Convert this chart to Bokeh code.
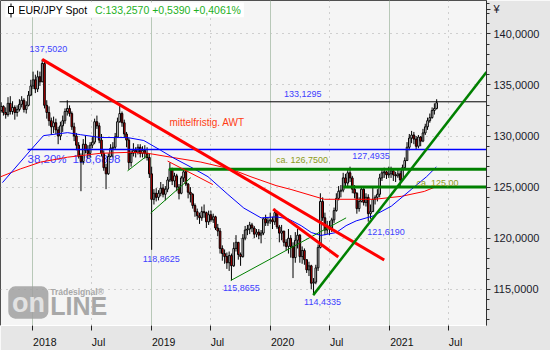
import pandas as pd
from bokeh.plotting import figure
from bokeh.models import FixedTicker, Range1d, BoxAnnotation, Grid, ColumnDataSource
from bokeh.core.properties import value
from bokeh.embed import file_html
from bokeh.resources import INLINE

# ---------------- data (weekly EUR/JPY) ----------------
first_week = "2017-09-27"
first_open = 132.5
closes = [
    132.9, 132.3, 132.1, 133.2, 132.4, 132.8, 132.3, 132.6,
    133.1, 133.5, 132.6, 133.0, 134.0, 134.9, 135.5, 134.6,
    135.8, 135.3, 137.1, 133.0, 132.3, 131.5, 130.9, 131.3,
    130.6, 130.0, 131.0, 131.5, 132.4, 132.7, 132.2, 130.9,
    130.0, 129.1, 128.0, 127.5, 129.2, 128.6, 128.3, 129.1,
    129.4, 131.4, 131.0, 129.6, 128.3, 126.9, 126.3, 128.0,
    128.8, 128.9, 129.9, 131.4, 132.2, 131.3, 130.2, 129.6,
    127.4, 128.3, 128.6, 128.4, 128.9, 128.3, 128.6, 128.3,
    127.9, 126.3, 123.8, 124.4, 124.0, 124.4, 124.9, 124.3,
    124.8, 125.7, 126.8, 125.6, 126.1, 125.0, 124.4, 125.9,
    126.5, 125.3, 124.5, 124.3, 123.2, 122.6, 122.2, 122.0,
    122.6, 122.5, 121.6, 122.3, 121.8, 122.1, 121.0, 120.7,
    119.0, 118.5, 118.2, 117.6, 118.3, 117.3, 119.0, 119.6,
    118.4, 118.2, 120.0, 120.8, 120.9, 121.3, 121.0, 120.4,
    120.6, 120.3, 120.5, 121.9, 121.5, 121.7, 121.8, 121.6,
    122.5, 121.1, 120.5, 120.7, 119.6, 119.2, 120.0, 119.2,
    118.1, 119.8, 120.3, 118.2, 118.8, 117.9, 116.9, 117.3,
    115.6, 115.7, 117.1, 119.1, 123.6, 122.0, 120.8, 121.2,
    121.0, 121.8, 122.7, 123.9, 124.6, 124.7, 125.9, 125.4,
    126.4, 125.9, 124.8, 124.4, 122.9, 123.6, 124.8, 123.5,
    124.0, 122.4, 122.6, 123.8, 124.0, 124.3, 125.9, 126.4,
    126.5, 126.2, 126.3, 126.6, 126.2, 126.1, 126.3, 125.7,
    126.9, 127.6, 128.9, 129.8, 130.1, 129.7, 129.0, 129.9,
    129.5, 130.3, 130.9, 131.5, 131.8, 132.5, 132.7, 133.257,
]
highs = [
    133.3, 133.0, 132.8, 133.8, 133.9, 133.4, 133.0, 133.0,
    133.6, 133.9, 133.7, 133.4, 134.4, 135.5, 136.3, 136.0,
    136.4, 136.3, 137.502, 137.3, 133.5, 132.9, 131.8, 131.9,
    131.7, 130.9, 131.4, 132.0, 132.7, 133.5, 133.0, 132.4,
    131.3, 130.3, 129.4, 128.3, 129.7, 130.0, 129.1, 129.4,
    129.9, 131.7, 132.0, 131.3, 130.2, 128.6, 127.3, 128.3,
    129.2, 129.4, 130.3, 131.8, 133.2, 132.4, 131.6, 130.4,
    129.8, 128.6, 129.3, 128.9, 129.2, 129.2, 129.0, 129.1,
    128.9, 128.3, 127.0, 124.8, 124.9, 124.7, 125.5, 125.3,
    125.1, 126.0, 127.4, 126.9, 126.4, 126.3, 125.3, 126.1,
    126.7, 126.7, 125.4, 125.0, 124.4, 123.4, 122.9, 122.5,
    123.1, 123.3, 122.6, 122.7, 122.7, 122.4, 122.2, 121.4,
    121.0, 119.3, 118.9, 118.6, 118.7, 118.5, 119.6, 120.3,
    119.6, 118.6, 120.4, 121.2, 121.3, 121.6, 121.5, 121.2,
    120.9, 120.9, 120.8, 122.0, 122.3, 122.0, 122.5, 122.1,
    122.9, 122.6, 121.3, 121.3, 120.7, 119.9, 120.9, 120.3,
    119.6, 120.6, 120.9, 120.4, 119.2, 119.0, 117.9, 117.7,
    117.4, 116.1, 117.4, 119.4, 124.4, 124.0, 122.5, 121.7,
    121.7, 122.0, 123.0, 124.4, 125.1, 125.2, 126.4, 126.3,
    126.8, 127.0, 126.1, 125.2, 124.5, 124.0, 125.1, 124.9,
    124.4, 124.3, 123.3, 125.1, 124.2, 124.8, 126.3, 126.8,
    126.9, 126.6, 127.0, 127.0, 126.7, 126.5, 126.8, 126.6,
    127.2, 127.9, 129.4, 130.2, 130.5, 130.4, 130.0, 130.1,
    130.0, 130.7, 131.2, 131.8, 132.2, 132.8, 133.2, 133.6,
]
lows = [
    132.3, 132.0, 131.7, 131.9, 132.1, 132.1, 131.6, 131.9,
    132.4, 132.8, 132.3, 132.2, 132.9, 133.9, 134.6, 134.2,
    134.3, 134.9, 135.3, 132.7, 131.7, 131.0, 130.1, 130.3,
    130.2, 129.2, 129.6, 130.4, 131.2, 132.0, 131.9, 130.6,
    129.5, 128.6, 127.8, 124.6, 127.2, 128.3, 127.8, 127.9,
    128.8, 129.2, 130.7, 129.3, 128.0, 126.6, 124.8, 126.2,
    127.9, 127.9, 128.7, 129.9, 131.3, 130.9, 129.8, 128.9,
    126.7, 127.0, 128.0, 127.9, 128.2, 127.9, 127.9, 127.8,
    127.6, 125.9, 118.8625, 123.3, 123.6, 123.7, 124.1, 124.0,
    123.7, 124.5, 125.5, 125.2, 125.0, 124.6, 123.8, 124.3,
    125.5, 125.1, 123.9, 123.5, 122.9, 122.1, 121.8, 121.4,
    121.7, 122.0, 121.0, 121.3, 121.6, 121.5, 120.8, 120.2,
    118.5, 117.8, 117.5, 117.0, 116.8, 115.8655, 117.2, 118.7,
    117.9, 117.3, 118.1, 119.8, 120.3, 120.4, 120.6, 120.0,
    120.1, 119.9, 119.5, 120.3, 121.2, 121.2, 121.4, 120.9,
    121.3, 120.9, 119.6, 119.8, 119.2, 118.8, 118.5, 118.1,
    116.1, 117.6, 119.0, 117.6, 117.5, 117.4, 116.6, 116.3,
    115.0, 114.4335, 115.5, 116.8, 119.0, 121.7, 120.3, 120.4,
    120.3, 120.6, 121.5, 122.6, 123.7, 124.0, 124.5, 125.0,
    125.0, 125.5, 124.4, 123.9, 122.4, 122.6, 123.5, 123.2,
    123.1, 121.619, 121.9, 122.6, 123.3, 123.6, 124.0, 125.6,
    125.9, 125.8, 125.9, 125.9, 125.6, 125.5, 125.9, 125.1,
    125.6, 126.8, 127.6, 128.6, 129.3, 129.2, 128.7, 128.8,
    129.0, 129.4, 130.1, 130.6, 131.3, 131.7, 132.1, 132.6,
]

# moving averages
ma_fast_dates = ["2017-10-01", "2017-12-26", "2018-02-04", "2018-04-19", "2018-05-29",
                 "2018-07-29", "2018-10-20", "2018-12-09", "2019-01-30", "2019-03-11",
                 "2019-05-02", "2019-06-24", "2019-08-24", "2019-10-12", "2019-12-04",
                 "2020-01-19", "2020-02-25", "2020-04-05", "2020-05-06", "2020-06-05",
                 "2020-07-22", "2020-08-21", "2020-09-21", "2020-11-12", "2021-01-07",
                 "2021-03-09", "2021-04-25", "2021-05-25"]
ma_fast_vals = [125.44, 128.60, 130.04, 130.33, 130.13, 129.85, 129.85, 129.56, 128.60,
                127.84, 126.97, 126.02, 124.29, 122.95, 121.99, 122.09, 121.90, 121.23,
                120.56, 120.27, 120.56, 121.23, 121.70, 122.18, 123.14, 124.77, 126.02,
                126.97]
ma_slow_dates = ["2017-09-25", "2017-11-25", "2018-01-26", "2018-04-19", "2018-07-29",
                 "2018-10-30", "2018-12-21", "2019-03-02", "2019-06-02", "2019-09-01",
                 "2019-11-03", "2020-01-19", "2020-03-05", "2020-06-15", "2020-11-16",
                 "2021-02-07", "2021-04-18", "2021-05-25"]
ma_slow_vals = [126.01, 126.78, 127.45, 127.93, 128.31, 128.41, 128.31, 127.93, 127.45,
                126.78, 126.01, 125.15, 124.77, 123.81, 123.81, 124.10, 124.58, 125.06]

# trend lines (start/end dates and levels)
down_long_dates, down_long_vals = ["2018-01-31", "2020-12-16"], [137.502, 117.87]
down_short_dates, down_short_vals = ["2020-01-10", "2020-07-28"], [122.85, 118.16]
up_main_dates, up_main_vals = ["2020-05-12", "2021-10-26"], [114.4335, 136.26]
thin_green_dates = [["2018-10-20", "2018-12-21"], ["2018-12-30", "2019-05-02"],
                    ["2019-09-02", "2020-08-21"]]
thin_green_vals = [[126.59, 128.12], [122.47, 125.92], [115.8655, 121.99]]
thin_red_dates, thin_red_vals = ["2019-02-20", "2019-07-09"], [127.55, 125.25]

# horizontal levels: (start date, level)
level_black = ("2018-03-25", 133.35)
level_blue = ("2017-12-17", 128.6898)
level_green1 = ("2019-02-24", 126.75)
level_green2 = ("2020-08-12", 125.00)

x_start, x_end = "2017-09-25", "2021-10-26"
y_min, y_max = 111.46, 143.26
y_major = [115, 120, 125, 130, 135, 140]
y_labels = ["115,0000", "120,0000", "125,0000", "130,0000", "135,0000", "140,0000"]
currency_pos, currency_label = 142.4, "¥"
year_ticks = ["2018-01-01", "2019-01-01", "2020-01-01", "2021-01-01"]
year_labels = ["2018", "2019", "2020", "2021"]
half_ticks = ["2018-07-01", "2019-07-01", "2020-07-01", "2021-07-01"]


def ms(d):
    return pd.Timestamp(d).value / 1e6


DAY = 86400000.0

# ---------------- derived candle table ----------------
dates = pd.date_range(first_week, periods=len(closes), freq="7D")
opens = [first_open] + closes[:-1]
src = ColumnDataSource(dict(
    x=[ms(d) for d in dates],
    o=opens, c=closes, h=highs, l=lows,
    top=[max(a, b) for a, b in zip(opens, closes)],
    bot=[min(a, b) for a, b in zip(opens, closes)],
    col=["white" if c >= o else "#e00000" for o, c in zip(opens, closes)],
))

p = figure(width=550, height=350, output_backend="svg", toolbar_location=None,
           x_range=Range1d(ms(x_start), ms(x_end)), y_range=Range1d(y_min, y_max),
           y_axis_location="right",
           min_border_left=0, min_border_top=0, min_border_right=64, min_border_bottom=19,
           background_fill_color="#f5f5f5", border_fill_color="#e6e6e6",
           outline_line_color="#505050")


def cbox(l, r, t, b, color, level="underlay", line=None):
    p.add_layout(BoxAnnotation(left=l, right=r, top=t, bottom=b,
                               left_units="canvas", right_units="canvas",
                               top_units="canvas", bottom_units="canvas",
                               fill_color=color, fill_alpha=1 if color else 0,
                               line_color=line, line_alpha=1, level=level))


# gradient panel on the right and the bottom strip
for k in range(16):
    t = (k + 0.5) / 16
    g = int(244 - 84 * t ** 1.8)
    cbox(486 + 4 * k, 490 + 4 * k, 0, 350, f"#{g:02x}{g:02x}{g:02x}")
for k in range(6):
    g = int(246 - 6 * k)
    cbox(0, 486, 332 + 3 * k, 335 + 3 * k, f"#{g:02x}{g:02x}{g:02x}")

# grids
p.ygrid.ticker = FixedTicker(ticks=y_major)
p.ygrid.grid_line_color = "#a8a8a8"
p.ygrid.grid_line_dash = "1 5"
p.xgrid.ticker = FixedTicker(ticks=[ms(d) for d in half_ticks])
p.xgrid.grid_line_color = "#a8a8a8"
p.xgrid.grid_line_dash = "1 5"
p.add_layout(Grid(dimension=0, ticker=FixedTicker(ticks=[ms(d) for d in year_ticks]),
                  grid_line_color="#b8c8b8", grid_line_width=1))

# axes
yax = p.yaxis[0]
yax.ticker = FixedTicker(ticks=y_major + [currency_pos], minor_ticks=list(range(112, 144)))
overrides = {float(v): s for v, s in zip(y_major, y_labels)}
overrides[float(currency_pos)] = currency_label
yax.major_label_overrides = overrides
yax.major_label_text_font = "Liberation Sans"
yax.major_label_text_font_size = "11px"
yax.major_label_text_color = "#1a1a2a"
yax.axis_line_color = "#303030"
yax.major_tick_in, yax.major_tick_out = 0, 4
yax.minor_tick_in, yax.minor_tick_out = 0, 3
yax.major_tick_line_color = "#303030"
yax.minor_tick_line_color = "#303030"
yax.major_label_standoff = 3

label_pos, label_txt = [], {}
for d, s in zip(year_ticks, year_labels):
    v = ms(d) + 38 * DAY
    label_pos.append(v)
    label_txt[v] = s
for d in half_ticks:
    v = ms(d) + 22 * DAY
    label_pos.append(v)
    label_txt[v] = "Jul"
xax = p.xaxis[0]
xax.ticker = FixedTicker(ticks=label_pos, minor_ticks=[ms(d) for d in year_ticks + half_ticks])
xax.major_label_overrides = label_txt
xax.major_label_text_font = "Liberation Sans"
xax.major_label_text_font_size = "10.5px"
xax.major_label_text_color = "#101010"
xax.axis_line_color = "white"
xax.major_tick_line_color = None
xax.minor_tick_in, xax.minor_tick_out = 0, 5
xax.minor_tick_line_color = "#202020"
xax.major_label_standoff = 4


def txt(text, d, y, color, size="9px", align="left", bold=False, alpha=1.0):
    p.text(x=[ms(d)], y=[y], text=[text], text_color=color, text_alpha=alpha,
           text_font=value("Liberation Sans"), text_font_size=value(size),
           text_align=align, text_baseline="middle",
           text_font_style="bold" if bold else "normal")


blue_t = "#4040ff"
olive_t = "#8c9a20"
# labels that sit under the candles
txt("38,20%", "2017-12-17", 127.74, blue_t, size="11.5px")
txt("128,6898", "2018-05-04", 127.74, blue_t, size="11.5px")

# watermark
p.add_layout(BoxAnnotation(left=ms("2017-10-19"), right=ms("2018-02-19"), top=115.29, bottom=112.13,
                           fill_color="#a0a0a0", fill_alpha=0.85, line_color=None,
                           border_radius=7, level="underlay"))
txt("on", "2017-12-20", 113.66, "#e2e2e2", size="27px", align="center", bold=True)
txt("LINE", "2018-02-25", 113.4, "#a8a8a8", size="25px", bold=True)
txt("Tradesignal®", "2018-02-25", 114.75, "#a8a8a8", size="8.5px", bold=True)

# title background
p.add_layout(BoxAnnotation(left=ms("2017-10-10"), right=ms("2019-10-12"), top=143.07, bottom=141.63,
                           fill_color="white", fill_alpha=1, line_color=None, level="underlay"))

# candles
p.segment(x0="x", y0="h", x1="x", y1="l", source=src, line_color="black", line_width=1)
p.vbar(x="x", width=5 * DAY, top="top", bottom="bot", source=src,
       fill_color="col", line_color="black", line_width=1)

# moving averages
p.line([ms(d) for d in ma_slow_dates], ma_slow_vals, line_color="#ff0000", line_width=1)
p.line([ms(d) for d in ma_fast_dates], ma_fast_vals, line_color="#0000ff", line_width=1)

# horizontal levels
end = ms(x_end)
p.line([ms(level_black[0]), end], [level_black[1]] * 2, line_color="black", line_width=1)
p.line([ms(level_blue[0]), end], [level_blue[1]] * 2, line_color="#0000ff", line_width=1.5)
p.line([ms(level_green1[0]), end], [level_green1[1]] * 2, line_color="#008000", line_width=3)
p.line([ms(level_green2[0]), end], [level_green2[1]] * 2, line_color="#008000", line_width=3)

# trend lines
for ds, vs in zip(thin_green_dates, thin_green_vals):
    p.line([ms(d) for d in ds], vs, line_color="#008000", line_width=1)
p.line([ms(d) for d in thin_red_dates], thin_red_vals, line_color="#ff0000", line_width=1)
p.line([ms(d) for d in down_long_dates], down_long_vals, line_color="#ff0000", line_width=3)
p.line([ms(d) for d in down_short_dates], down_short_vals, line_color="#ff0000", line_width=3)
p.line([ms(d) for d in up_main_dates], up_main_vals, line_color="#008000", line_width=2.5)

# value labels
txt("137,5020", "2018-02-19", 138.47, blue_t, align="center")
txt("133,1295", "2020-04-10", 134.16, blue_t, align="center")
txt("mittelfristig. AWT", "2019-06-21", 131.28, "#ff3c14", size="10px", align="center")
txt("ca. 126,7500", "2020-01-19", 127.64, olive_t)
txt("127,4935", "2020-09-09", 128.03, blue_t)
txt("ca. 125,00", "2021-03-25", 125.44, olive_t)
txt("118,8625", "2018-12-06", 117.97, blue_t)
txt("115,8655", "2019-08-09", 115.10, blue_t)
txt("114,4335", "2020-04-14", 113.75, blue_t)
txt("121,6190", "2020-10-25", 120.65, blue_t)

# title
txt("EUR/JPY Spot", "2017-11-19", 142.33, "black", size="10.5px")
txt("C:133,2570 +0,5390 +0,4061%", "2018-07-12", 142.33, "#1eb01e", size="10.5px")
# small candle icon of the title
cbox(10, 11, 3, 17, "#000000", level="annotation")
cbox(8, 13, 6, 13, "#ffffff", level="annotation", line="#000000")

open("out.html", "w").write(file_html(p, INLINE))
